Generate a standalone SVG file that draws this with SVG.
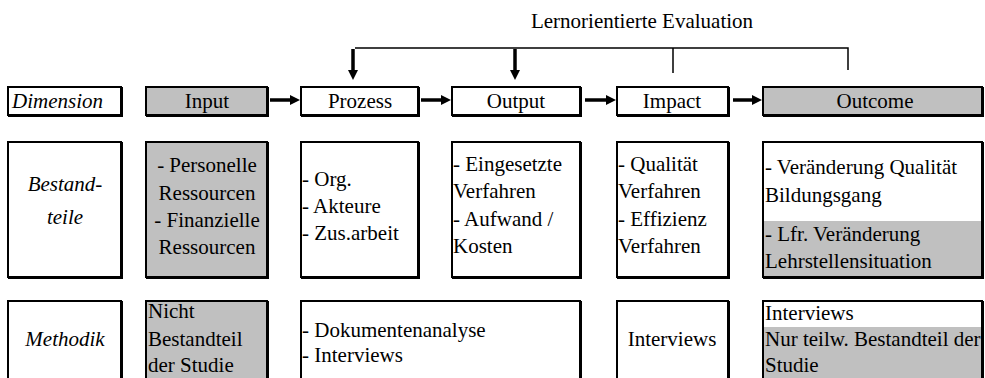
<svg xmlns="http://www.w3.org/2000/svg" width="985" height="378" viewBox="0 0 985 378">
<defs>
<style>
.box{fill:#fff;stroke:#000;stroke-width:2}
.grey{fill:#c0c0c0}
.sh{fill:none;stroke:#000;stroke-width:3}
text{font-family:"Liberation Serif","Times New Roman",serif;font-size:21px;fill:#000}
.it{font-style:italic}
.c{text-anchor:middle}
.ln{stroke:#000;stroke-width:1.5;fill:none}
.ar{stroke:#000;stroke-width:3.5;fill:none;marker-end:url(#head)}
</style>
<marker id="head" viewBox="0 0 10 10" refX="2" refY="5" markerWidth="10" markerHeight="11" markerUnits="userSpaceOnUse" orient="auto">
<path d="M0,0 L10,5 L0,10 z" fill="#000"/>
</marker>
</defs>
<rect width="985" height="378" fill="#fff"/>

<text x="642" y="28" class="c">Lernorientierte Evaluation</text>

<g id="connectors">
<path class="ln" d="M355,48 H848 V70 M673,48 V73"/>
<path class="ar" d="M353,49 V72"/>
<path class="ar" d="M515,49 V72"/>
<path class="ar" d="M270,100 H292"/>
<path class="ar" d="M421,100 H443"/>
<path class="ar" d="M585,100 H608"/>
<path class="ar" d="M733,100 H754"/>
</g>

<!-- Row 1 -->
<g id="dimension">
<rect class="box" x="8" y="87" width="113" height="28"/>
<path class="sh" d="M121.5,87 V115.5 H8"/>
<text x="12" y="108" class="it">Dimension</text>
</g>
<g id="input">
<rect class="box grey" x="146" y="87" width="121" height="28"/>
<path class="sh" d="M267.5,87 V115.5 H146"/>
<text x="207" y="108" class="c">Input</text>
</g>
<g id="prozess">
<rect class="box" x="301" y="87" width="117" height="28"/>
<path class="sh" d="M418.5,87 V115.5 H301"/>
<text x="360" y="108" class="c">Prozess</text>
</g>
<g id="output">
<rect class="box" x="452" y="87" width="128" height="28"/>
<path class="sh" d="M580.5,87 V115.5 H452"/>
<text x="516" y="108" class="c">Output</text>
</g>
<g id="impact">
<rect class="box" x="617" y="87" width="111" height="28"/>
<path class="sh" d="M728.5,87 V115.5 H617"/>
<text x="672" y="108" class="c">Impact</text>
</g>
<g id="outcome">
<rect class="box grey" x="763" y="87" width="219" height="28"/>
<path class="sh" d="M982.5,87 V115.5 H763"/>
<text x="875" y="108" class="c">Outcome</text>
</g>

<!-- Row 2 -->
<g id="bestandteile">
<rect class="box" x="8" y="142" width="113" height="135"/>
<path class="sh" d="M121.5,142 V277.5 H8"/>
<text x="65" y="191" class="it c">Bestand-</text>
<text x="65" y="224" class="it c">teile</text>
</g>
<g id="input-bestandteile">
<rect class="box grey" x="146" y="142" width="121" height="135"/>
<path class="sh" d="M267.5,142 V277.5 H146"/>
<text x="207" y="172" class="c">- Personelle</text>
<text x="207" y="200" class="c">Ressourcen</text>
<text x="207" y="227" class="c">- Finanzielle</text>
<text x="207" y="254" class="c">Ressourcen</text>
</g>
<g id="prozess-bestandteile">
<rect class="box" x="301" y="142" width="117" height="135"/>
<path class="sh" d="M418.5,142 V277.5 H301"/>
<text x="302" y="186">- Org.</text>
<text x="302" y="213">- Akteure</text>
<text x="302" y="240">- Zus.arbeit</text>
</g>
<g id="output-bestandteile">
<rect class="box" x="452" y="142" width="128" height="135"/>
<path class="sh" d="M580.5,142 V277.5 H452"/>
<text x="453" y="171">- Eingesetzte</text>
<text x="453" y="198">Verfahren</text>
<text x="453" y="226">- Aufwand /</text>
<text x="453" y="253">Kosten</text>
</g>
<g id="impact-bestandteile">
<rect class="box" x="617" y="142" width="111" height="135"/>
<path class="sh" d="M728.5,142 V277.5 H617"/>
<text x="618" y="171">- Qualität</text>
<text x="618" y="198">Verfahren</text>
<text x="618" y="226">- Effizienz</text>
<text x="618" y="253">Verfahren</text>
</g>
<g id="outcome-bestandteile">
<rect class="box" x="763" y="142" width="219" height="135"/>
<rect class="grey" x="764" y="221" width="217" height="55"/>
<path class="sh" d="M982.5,142 V277.5 H763"/>
<text x="765" y="174">- Veränderung Qualität</text>
<text x="765" y="202">Bildungsgang</text>
<text x="765" y="241">- Lfr. Veränderung</text>
<text x="765" y="268">Lehrstellensituation</text>
</g>

<!-- Row 3 -->
<g id="methodik">
<rect class="box" x="8" y="301" width="113" height="90"/>
<path class="sh" d="M121.5,301 V391"/>
<text x="65" y="346" class="it c">Methodik</text>
</g>
<g id="input-methodik">
<rect class="box grey" x="146" y="301" width="121" height="90"/>
<path class="sh" d="M267.5,301 V391"/>
<text x="148" y="318">Nicht</text>
<text x="148" y="346">Bestandteil</text>
<text x="148" y="372">der Studie</text>
</g>
<g id="prozess-output-methodik">
<rect class="box" x="301" y="301" width="279" height="90"/>
<path class="sh" d="M580.5,301 V391"/>
<text x="302" y="337">- Dokumentenanalyse</text>
<text x="302" y="362">- Interviews</text>
</g>
<g id="impact-methodik">
<rect class="box" x="617" y="301" width="111" height="90"/>
<path class="sh" d="M728.5,301 V391"/>
<text x="672" y="346" class="c">Interviews</text>
</g>
<g id="outcome-methodik">
<rect class="box" x="763" y="301" width="219" height="90"/>
<rect class="grey" x="764" y="327" width="217" height="60"/>
<path class="sh" d="M982.5,301 V391"/>
<text x="765" y="320">Interviews</text>
<text x="765" y="346">Nur teilw. Bestandteil der</text>
<text x="765" y="372">Studie</text>
</g>
</svg>
